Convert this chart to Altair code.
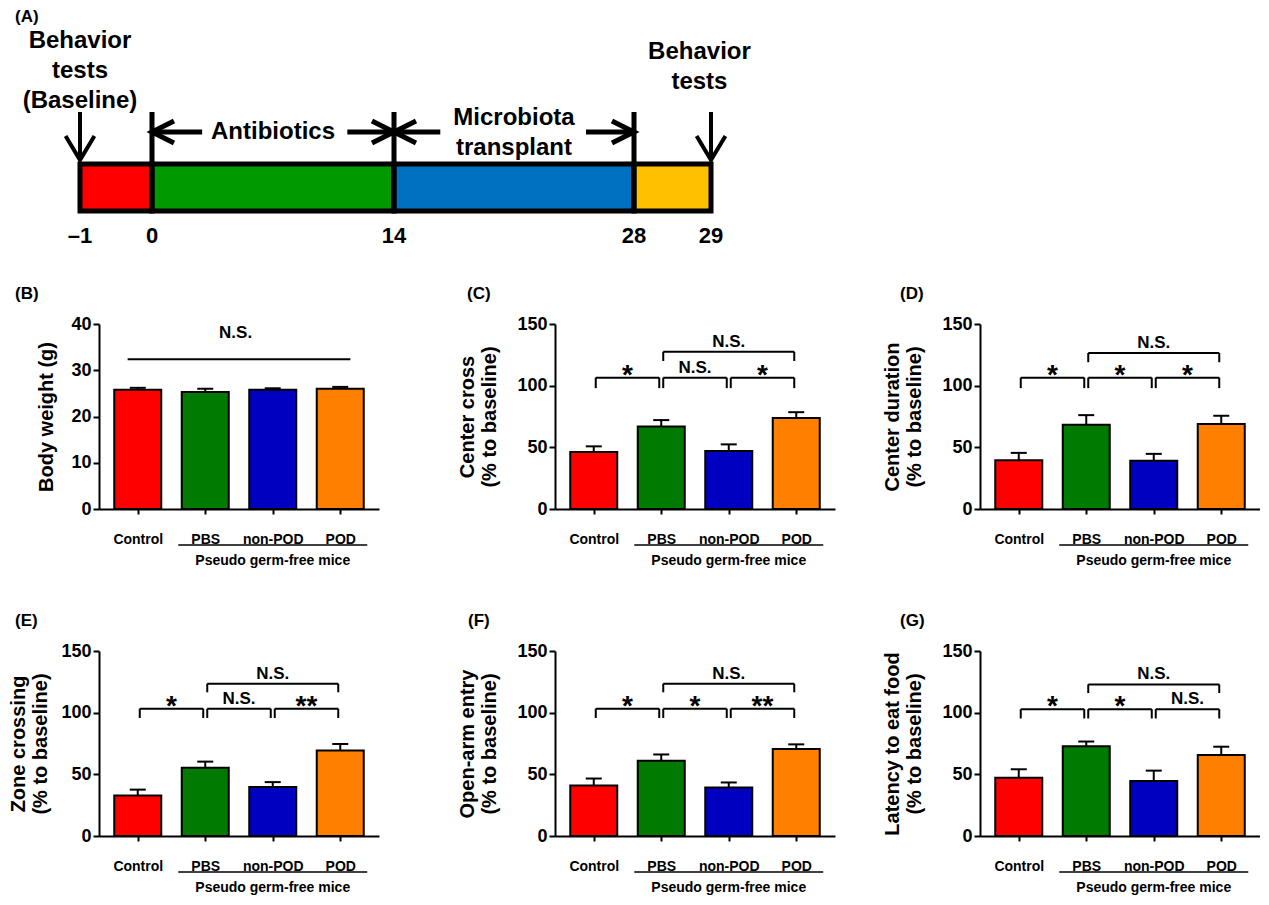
import altair as alt
import pandas as pd

FONT = "Liberation Sans, Arial, Helvetica, sans-serif"

# ---------------- data ----------------
groups = ["Control", "PBS", "non-POD", "POD"]
bar_colors = ["#FF0000", "#007A00", "#0000C0", "#FF8000"]

# (B) body weight (g)
bw_mean = [25.8, 25.3, 25.8, 26.0]
bw_sem = [0.4, 0.7, 0.3, 0.4]
# (C) center cross
cc_mean = [46.3, 66.8, 47.1, 73.7]
cc_sem = [4.5, 5.3, 5.3, 4.8]
# (D) center duration
cd_mean = [39.6, 68.4, 39.1, 68.9]
cd_sem = [5.9, 7.7, 5.6, 6.7]
# (E) zone crossing
zc_mean = [32.8, 55.3, 39.7, 69.3]
zc_sem = [4.8, 5.0, 4.0, 5.3]
# (F) open-arm entry
oa_mean = [41.0, 61.1, 39.4, 70.6]
oa_sem = [5.6, 5.0, 4.0, 3.7]
# (G) latency to eat food
lt_mean = [47.2, 72.7, 44.6, 65.6]
lt_sem = [6.9, 3.9, 8.4, 6.8]

# significance comparisons
c_sig = [("Control", "PBS", "*"), ("PBS", "non-POD", "N.S."), ("non-POD", "POD", "*"), ("PBS", "POD", "N.S.")]
d_sig = [("Control", "PBS", "*"), ("PBS", "non-POD", "*"), ("non-POD", "POD", "*"), ("PBS", "POD", "N.S.")]
e_sig = [("Control", "PBS", "*"), ("PBS", "non-POD", "N.S."), ("non-POD", "POD", "**"), ("PBS", "POD", "N.S.")]
f_sig = [("Control", "PBS", "*"), ("PBS", "non-POD", "*"), ("non-POD", "POD", "**"), ("PBS", "POD", "N.S.")]
g_sig = [("Control", "PBS", "*"), ("PBS", "non-POD", "*"), ("non-POD", "POD", "N.S."), ("PBS", "POD", "N.S.")]
subgroup_label = "Pseudo germ-free mice"

# timeline (A)
tl_days = [-1, 0, 14, 28, 29]
tl_tick_labels = ["\u20131", "0", "14", "28", "29"]
phase_names = ["Baseline", "Antibiotics", "Microbiota transplant", "Final"]
phase_start = [-1, 0, 14, 28]
phase_end = [0, 14, 28, 29]
phase_colors = ["#FF0000", "#009900", "#0070C0", "#FFC000"]
divider_days = [0, 14, 28]
test_days = [-1, 29]
arrow_tips = [0, 14, 14, 28]
arrow_tails = [2.9, 11.3, 16.7, 25.2]
arrow_dirs = ["left", "right", "left", "right"]
notes = ["Behavior\ntests\n(Baseline)", "Antibiotics", "Microbiota\ntransplant", "Behavior\ntests"]
note_days = [-1, 7, 21, 28.85]

# ---------------- styling ----------------
PANEL_W = 280
PANEL_H = 185
BAR_W = 47


def title_params(label, dx, offset=12):
    return alt.TitleParams(text=label, anchor="start", frame="group", dx=dx, offset=offset,
                           fontSize=17, fontWeight="bold", font=FONT, color="black")


def make_panel(label, label_dx, ytitle, tpad, means, sems, comps, ymax, yticks, levels):
    df = pd.DataFrame({"group": groups, "idx": list(range(len(groups))), "mean": means,
                       "upper": [m + s for m, s in zip(means, sems)]})
    xs = alt.Scale(domain=[-0.5, 3.5], nice=False, zero=False)
    ys = alt.Scale(domain=[0, ymax], nice=False, zero=True)
    xa = alt.Axis(values=list(range(len(groups))),
                  labelExpr="['Control','PBS','non-POD','POD'][datum.value]",
                  title=None, grid=False, domainColor="black", domainWidth=2,
                  tickColor="black", tickWidth=2, tickSize=5, labelFont=FONT,
                  labelFontSize=14, labelFontWeight="bold", labelColor="black",
                  labelPadding=18, labelAngle=0, labelFlush=False, labelOverlap=False)
    ya = alt.Axis(values=yticks, title=ytitle, grid=False, domainColor="black", domainWidth=2,
                  tickColor="black", tickWidth=2, tickSize=6, labelFont=FONT, labelFontSize=18,
                  labelFontWeight="bold", labelColor="black", labelPadding=2,
                  titleFont=FONT, titleFontSize=20, titleFontWeight="bold", titleColor="black",
                  titlePadding=tpad, titleLineHeight=22, labelFlush=False)

    def X(field=None, **kw):
        if field is None:
            return alt.X(scale=xs, axis=xa, **kw)
        return alt.X(field, scale=xs, axis=xa, **kw)

    def Y(field=None, **kw):
        if field is None:
            return alt.Y(scale=ys, axis=ya, **kw)
        return alt.Y(field, scale=ys, axis=ya, **kw)

    base = alt.Chart(df)
    bars = base.mark_bar(size=BAR_W, stroke="black", strokeWidth=2).encode(
        x=X("idx:Q"), y=Y("mean:Q"),
        color=alt.Color("group:N", scale=alt.Scale(domain=groups, range=bar_colors), legend=None),
    )
    err = base.mark_rule(color="black", strokeWidth=2).encode(
        x=X("idx:Q"), y=Y("mean:Q"), y2="upper:Q")
    cap = base.mark_rule(color="black", strokeWidth=2, xOffset=-8, x2Offset=8).encode(
        x=X("idx:Q"), x2="idx:Q", y=Y("upper:Q"))
    layers = [bars, err, cap]

    if comps:
        rows = []
        for a, b, lab in comps:
            i, j = groups.index(a), groups.index(b)
            lev, drop = levels[0] if j - i == 1 else levels[1]
            rows.append({"x1": i, "x2": j, "mid": (i + j) / 2, "level": lev,
                         "bottom": lev - drop, "label": lab})
        bb = alt.Chart(pd.DataFrame(rows))
        hline = bb.mark_rule(color="black", strokeWidth=2, xOffset=2, x2Offset=-2).encode(
            x=X("x1:Q"), x2="x2:Q", y=Y("level:Q"))
        leg1 = bb.mark_rule(color="black", strokeWidth=2, xOffset=2).encode(
            x=X("x1:Q"), y=Y("level:Q"), y2="bottom:Q")
        leg2 = bb.mark_rule(color="black", strokeWidth=2, xOffset=-2).encode(
            x=X("x2:Q"), y=Y("level:Q"), y2="bottom:Q")
        stars = bb.transform_filter(alt.datum.label != "N.S.").mark_text(
            font=FONT, fontSize=28, fontWeight="bold", baseline="alphabetic", dy=6, color="black").encode(
            x=X("mid:Q"), y=Y("level:Q"), text="label:N")
        ns = bb.transform_filter(alt.datum.label == "N.S.").mark_text(
            font=FONT, fontSize=17, fontWeight="bold", baseline="alphabetic", dy=-5, color="black").encode(
            x=X("mid:Q"), y=Y("level:Q"), text="label:N")
        layers += [hline, leg1, leg2, stars, ns]
    else:
        one = alt.Chart(pd.DataFrame({"label": ["N.S."]}))
        line = one.mark_rule(color="black", strokeWidth=2).encode(
            x=X(datum=-0.15), x2=alt.X2(datum=3.15), y=Y(datum=levels[0][0]))
        txt = one.mark_text(font=FONT, fontSize=17, fontWeight="bold", baseline="middle", color="black").encode(
            x=X(datum=1.45), y=Y(datum=levels[0][1]), text="label:N")
        layers += [line, txt]

    sub = alt.Chart(pd.DataFrame({"label": [subgroup_label]}))
    first = groups.index("PBS") - 0.4
    last = groups.index("POD") + 0.4
    under = sub.mark_rule(color="black", strokeWidth=1.5, yOffset=36).encode(
        x=X(datum=first), x2=alt.X2(datum=last), y=Y(datum=0))
    subtxt = sub.mark_text(font=FONT, fontSize=14, fontWeight="bold", baseline="middle",
                           yOffset=52, color="black").encode(
        x=X(datum=groups.index("non-POD")), y=Y(datum=0), text="label:N")
    layers += [under, subtxt]

    return alt.layer(*layers).properties(width=PANEL_W, height=PANEL_H,
                                         title=title_params(label, label_dx))


pct = [0, 50, 100, 150]
B = make_panel("(B)", -84, "Body weight (g)", 14, bw_mean, bw_sem, [], 40, [0, 10, 20, 30, 40],
               [(32.4, 38.0)])
C = make_panel("(C)", -88, ["Center cross", "(% to baseline)"], 17, cc_mean, cc_sem, c_sig, 150, pct,
               [(106.5, 8.5), (127.5, 7.5)])
D = make_panel("(D)", -80, ["Center duration", "(% to baseline)"], 17, cd_mean, cd_sem, d_sig, 150, pct,
               [(106.5, 8.5), (126.5, 7.5)])
E = make_panel("(E)", -84, ["Zone crossing", "(% to baseline)"], 10, zc_mean, zc_sem, e_sig, 150, pct,
               [(103.2, 7.5), (123.5, 7)])
F = make_panel("(F)", -87, ["Open-arm entry", "(% to baseline)"], 17, oa_mean, oa_sem, f_sig, 150, pct,
               [(103.2, 7.5), (123.5, 7)])
G = make_panel("(G)", -80, ["Latency to eat food", "(% to baseline)"], 17, lt_mean, lt_sem, g_sig, 150, pct,
               [(102.8, 7.5), (122.9, 7)])

# ---------------- timeline (A) ----------------
tx = alt.Scale(domain=tl_days, range=[-19, 53, 295, 535, 612])
ty = alt.Scale(domain=[0, 21.2], nice=False, zero=False)

seg_df = pd.DataFrame({"phase": phase_names, "start": phase_start, "end": phase_end})
segs = alt.Chart(seg_df).mark_rect(stroke="black", strokeWidth=5).encode(
    x=alt.X("start:Q", scale=tx, axis=None), x2="end:Q",
    y=alt.Y(datum=3.4, scale=ty, axis=None), y2=alt.Y2(datum=8.1),
    fill=alt.Fill("phase:N", scale=alt.Scale(domain=phase_names, range=phase_colors), legend=None))

div_df = pd.DataFrame({"day": divider_days})
divs = alt.Chart(div_df).mark_rule(color="black", strokeWidth=5).encode(
    x=alt.X("day:Q", scale=tx, axis=None),
    y=alt.Y(datum=3.2, scale=ty, axis=None), y2=alt.Y2(datum=13.3))

test_df = pd.DataFrame({"day": test_days})
test_shaft = alt.Chart(test_df).mark_rule(color="black", strokeWidth=4).encode(
    x=alt.X("day:Q", scale=tx, axis=None),
    y=alt.Y(datum=13.3, scale=ty, axis=None), y2=alt.Y2(datum=8.7))
test_head = alt.Chart(test_df).mark_point(shape="M -0.6 -1 L 0 0 L 0.6 -1", size=2304, filled=False,
                                          strokeWidth=4, color="black", opacity=1).encode(
    x=alt.X("day:Q", scale=tx, axis=None), y=alt.Y(datum=8.5, scale=ty, axis=None))

arr_df = pd.DataFrame({"tip": arrow_tips, "tail": arrow_tails, "dir": arrow_dirs})
arr_shaft = alt.Chart(arr_df).mark_rule(color="black", strokeWidth=5).encode(
    x=alt.X("tip:Q", scale=tx, axis=None), x2="tail:Q",
    y=alt.Y(datum=11.3, scale=ty, axis=None))
arr_left = alt.Chart(arr_df).transform_filter(alt.datum.dir == "left").mark_point(
    shape="M 1 -0.5 L 0 0 L 1 0.5", size=1936, filled=False, strokeWidth=5, color="black", opacity=1).encode(
    x=alt.X("tip:Q", scale=tx, axis=None), y=alt.Y(datum=11.3, scale=ty, axis=None))
arr_right = alt.Chart(arr_df).transform_filter(alt.datum.dir == "right").mark_point(
    shape="M -1 -0.5 L 0 0 L -1 0.5", size=1936, filled=False, strokeWidth=5, color="black", opacity=1).encode(
    x=alt.X("tip:Q", scale=tx, axis=None), y=alt.Y(datum=11.3, scale=ty, axis=None))

# level of the first line of each note
note_levels = [20.4, 11.3, 12.7, 19.3]
note_layers = []
for txt, day, lev in zip(notes, note_days, note_levels):
    note_layers.append(
        alt.Chart(pd.DataFrame({"note": [txt], "day": [day]})).mark_text(
            font=FONT, fontSize=24, fontWeight="bold", baseline="middle", lineBreak="\n",
            lineHeight=30, color="black").encode(
            x=alt.X("day:Q", scale=tx, axis=None), y=alt.Y(datum=lev, scale=ty, axis=None),
            text="note:N"))

tick_df = pd.DataFrame({"day": tl_days, "label": tl_tick_labels})
ticks = alt.Chart(tick_df).mark_text(font=FONT, fontSize=22, fontWeight="bold", baseline="middle",
                                     color="black").encode(
    x=alt.X("day:Q", scale=tx, axis=None), y=alt.Y(datum=0.9, scale=ty, axis=None), text="label:N")

timeline = alt.layer(segs, divs, test_shaft, test_head, arr_shaft, arr_left, arr_right,
                     *note_layers, ticks).properties(
    width=612, height=212, title=title_params("(A)", -84, offset=3))

row2 = alt.hconcat(B, alt.hconcat(C, D, spacing=47), spacing=78)
row3 = alt.hconcat(E, alt.hconcat(F, G, spacing=47), spacing=78)
rows = alt.vconcat(row2, row3, spacing=44)

chart = alt.vconcat(timeline, rows, spacing=38).properties(
    padding=0, background="white"
).configure(font=FONT).configure_view(stroke=None)

chart.save("out.html", embed_options={"renderer": "svg", "actions": False})
